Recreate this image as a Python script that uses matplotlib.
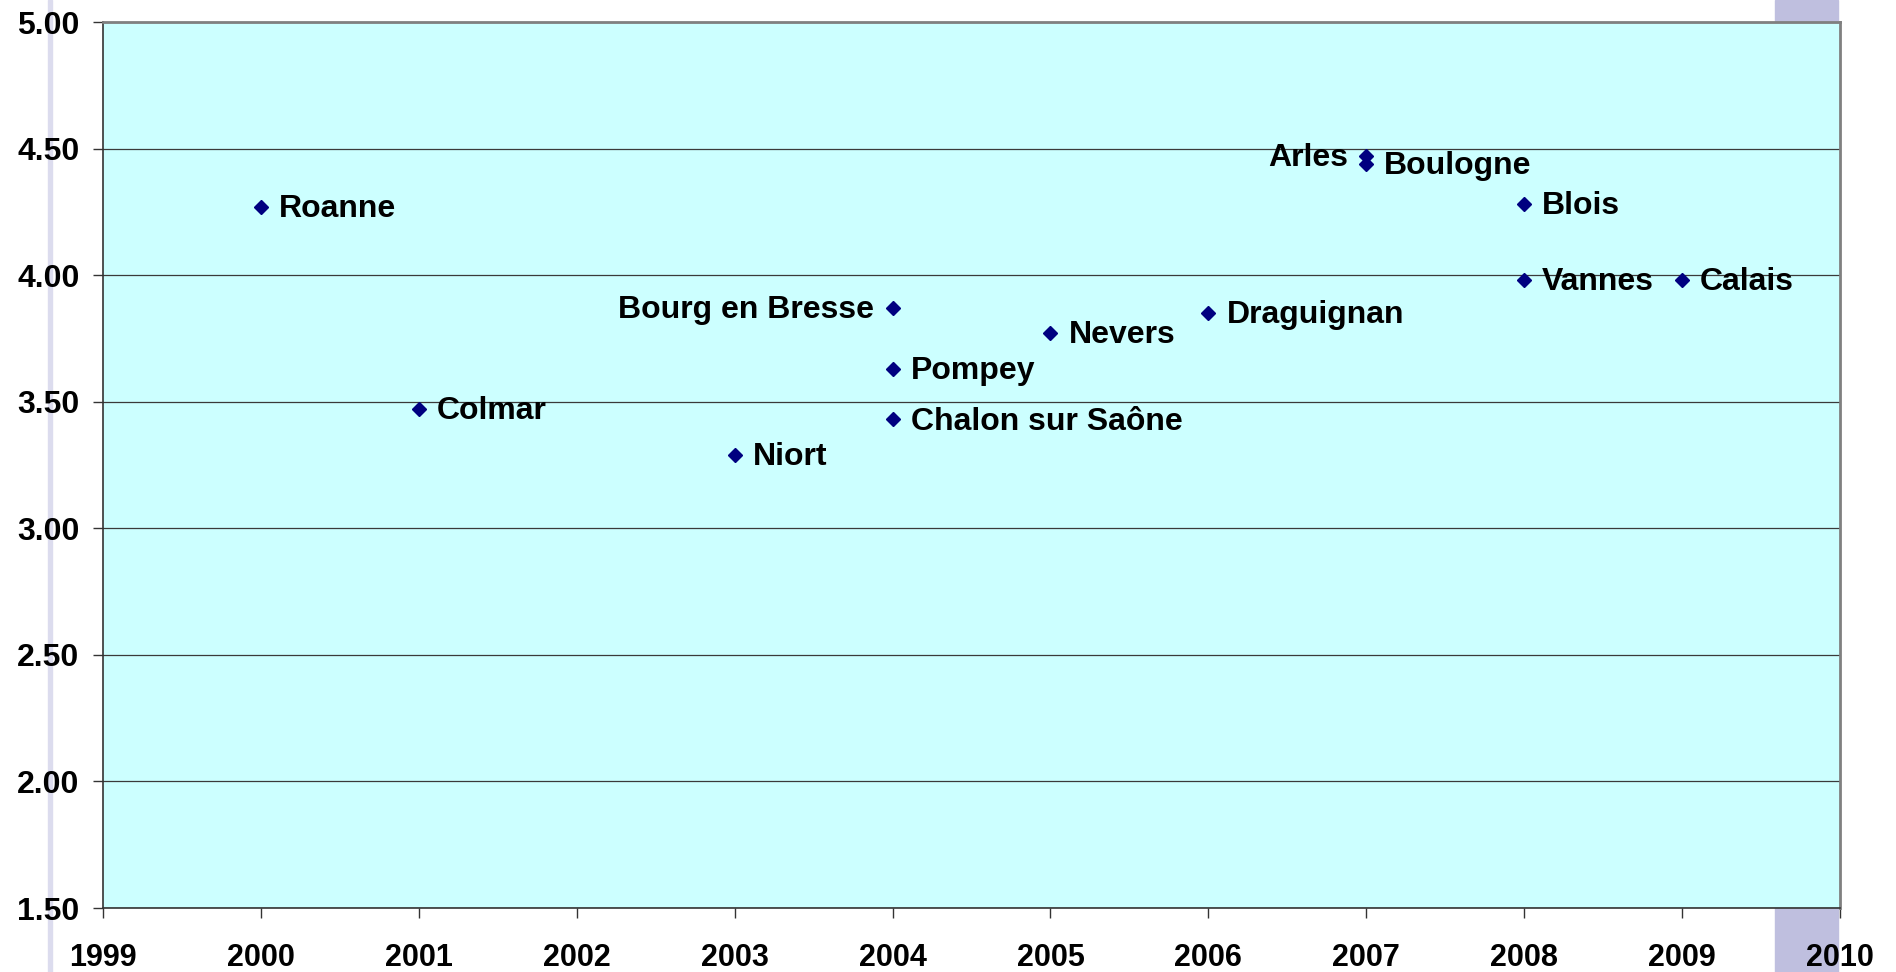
import matplotlib
matplotlib.use("Agg")
import matplotlib.pyplot as plt
from matplotlib.patches import Rectangle

# --------- data --------------------------------------------------------------
cities = ["Roanne", "Colmar", "Niort", "Bourg en Bresse", "Pompey",
          "Chalon sur Saône", "Nevers", "Draguignan", "Arles", "Boulogne",
          "Blois", "Vannes", "Calais"]
years = [2000, 2001, 2003, 2004, 2004, 2004, 2005, 2006, 2007, 2007,
         2008, 2008, 2009]
scores = [4.27, 3.47, 3.29, 3.87, 3.63, 3.43, 3.77, 3.85, 4.47, 4.44,
          4.28, 3.98, 3.98]
label_side = ["right", "right", "right", "left", "right", "right", "right",
              "right", "left", "right", "right", "right", "right"]

x_ticks = list(range(1999, 2011))
y_ticks = [1.50, 2.00, 2.50, 3.00, 3.50, 4.00, 4.50, 5.00]

plt.rcParams["font.weight"] = "bold"
plt.rcParams["font.family"] = ["Liberation Sans", "DejaVu Sans"]

W, H = 1896, 972
fig = plt.figure(figsize=(W / 100, H / 100), dpi=100)
fig.patch.set_facecolor("white")

# faint background decoration of the slide
fig.patches.append(Rectangle((48 / W, 0), 4 / W, 1, transform=fig.transFigure,
                             color="#dcdcee", zorder=0))
fig.patches.append(Rectangle((1775 / W, 0), 63 / W, 1, transform=fig.transFigure,
                             color="#bfbfdf", zorder=0))

ax = fig.add_axes([103 / W, 1 - 908 / H, (1840 - 103) / W, (908 - 22) / H])
ax.set_zorder(2)
ax.set_facecolor("#CCFFFF")
ax.set_xlim(1999, 2010)
ax.set_ylim(1.5, 5.0)
ax.set_xticks(x_ticks)
ax.set_yticks(y_ticks)
ax.set_yticklabels([f"{v:.2f}" for v in y_ticks])
ax.yaxis.grid(True, color="#3a3a3a", lw=0.9)
ax.set_axisbelow(True)

ax.tick_params(axis="both", colors="#333333", labelcolor="black", width=1)
ax.tick_params(axis="y", direction="out", length=7, pad=10, labelsize=23)
ax.tick_params(axis="x", direction="out", length=7, pad=18, labelsize=22)

for s in ["left", "bottom"]:
    ax.spines[s].set_color("#333333")
    ax.spines[s].set_linewidth(1.2)
for s in ["top", "right"]:
    ax.spines[s].set_color("#808080")
    ax.spines[s].set_linewidth(2)

ax.plot(years, scores, linestyle="none", marker="D", ms=7.5,
        color="#000080", zorder=3)

for name, x, y, side in zip(cities, years, scores, label_side):
    dx = 13 if side == "right" else -13
    ax.annotate(name, (x, y), xytext=(dx, -1.5), textcoords="offset points",
                ha="left" if side == "right" else "right", va="center",
                fontsize=23, fontweight="bold", zorder=4)

fig.savefig("out.png", dpi=100)
